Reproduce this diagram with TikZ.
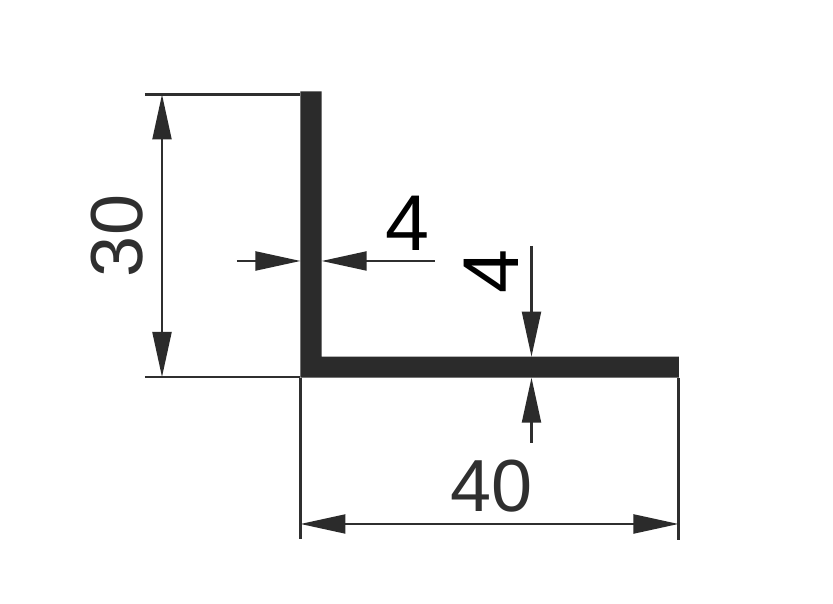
\documentclass[tikz,border=0pt]{standalone}
\usepackage{fontspec}
\setmainfont{Liberation Sans}
\usetikzlibrary{arrows.meta}
\definecolor{profilegray}{HTML}{2B2B2B}
\definecolor{dimgray}{HTML}{2F2F2F}
\tikzset{
    dimline/.style={draw=dimgray, line width=0.6pt},
    dimtip/.style={dimline, -{Triangle[length=0.45cm, width=0.19cm, color=profilegray]}},
    dimboth/.style={dimline, {Triangle[length=0.45cm, width=0.19cm, color=profilegray]}-{Triangle[length=0.45cm, width=0.19cm, color=profilegray]}},
    dimtext/.style={inner sep=0pt, text=dimgray, font=\fontsize{21}{21}\selectfont},
    dimtextblack/.style={inner sep=0pt, text=black, font=\fontsize{22.5}{22.5}\selectfont}
}
\begin{document}
\begin{tikzpicture}
    \useasboundingbox (0,0) rectangle (8.33,6.04);
    \fill[white] (0,0) rectangle (8.33,6.04);

    % profile
    \fill[profilegray] (3.005,5.125) -- (3.217,5.125) -- (3.217,2.473) -- (6.79,2.473) -- (6.79,2.263) -- (3.005,2.263) -- cycle;

    % extension lines
    \draw[dimline] (1.45,5.095) -- (3.005,5.095);
    \draw[dimline] (1.45,2.27) -- (3.005,2.27);
    \draw[dimline] (3.005,2.263) -- (3.005,0.65);
    \draw[dimline] (6.785,2.263) -- (6.785,0.64);

    % dimension lines
    \draw[dimboth] (1.62,5.095) -- (1.62,2.27);
    \draw[dimboth] (3.005,0.80) -- (6.785,0.80);
    \draw[dimtip] (2.37,3.43) -- (3.005,3.43);
    \draw[dimtip] (4.35,3.43) -- (3.217,3.43);
    \draw[dimtip] (5.315,3.58) -- (5.315,2.473);
    \draw[dimtip] (5.315,1.61) -- (5.315,2.263);

    % labels
    \node[dimtext, rotate=90] (height) at (1.17,3.68) {30};
    \node[dimtext] (width) at (4.915,1.18) {40};
    \node[dimtextblack] (wallv) at (4.07,3.81) {4};
    \node[dimtextblack, rotate=90] (wallh) at (4.91,3.32) {4};
\end{tikzpicture}
\end{document}
